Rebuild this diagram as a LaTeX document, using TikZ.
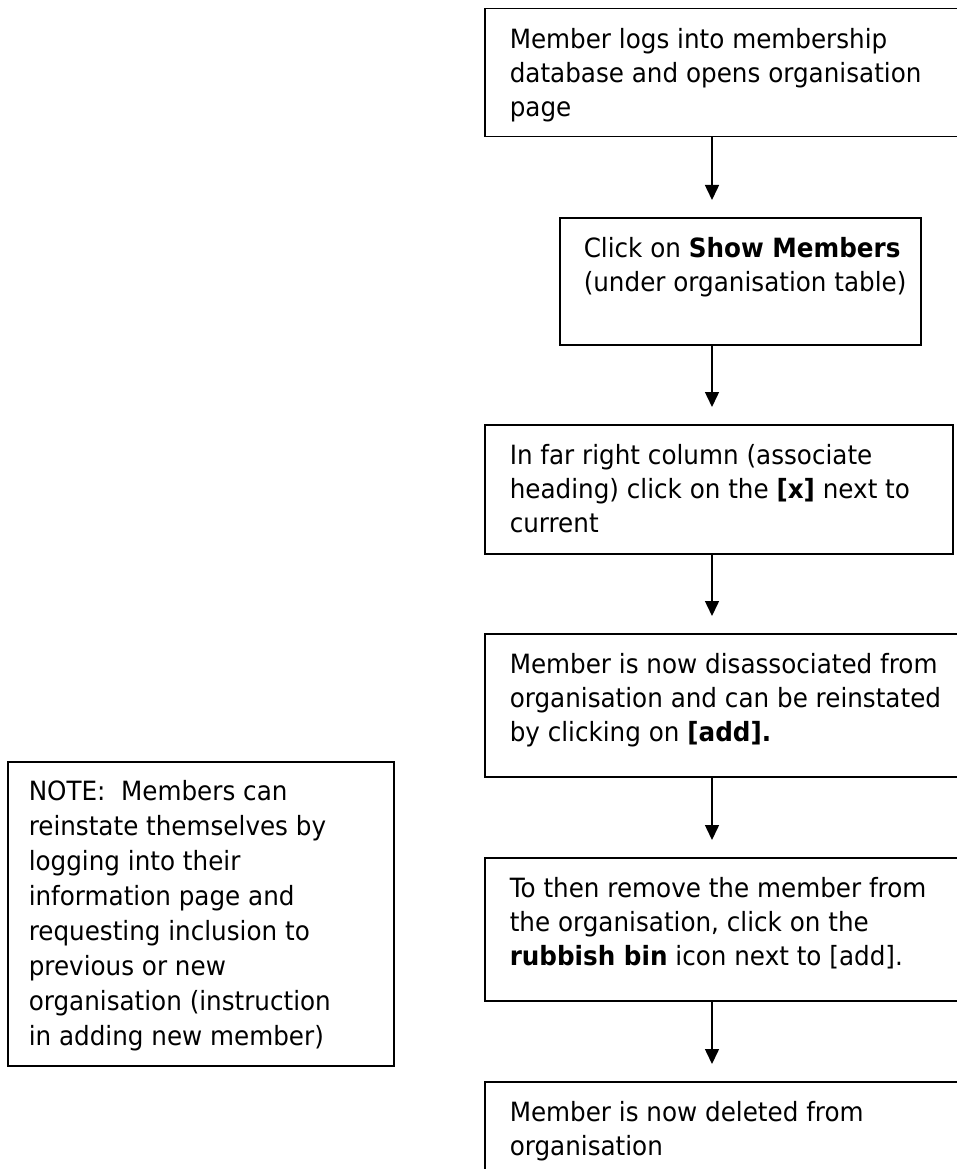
\documentclass[tikz,border=0pt]{standalone}
\usepackage{fontspec}
\setmainfont{DejaVu Sans}[FakeStretch=0.93]
\usetikzlibrary{arrows.meta}
% width, height, left pad, first baseline, baselineskip, text
\newcommand{\boxtxt}[6]{\parbox[c][#2][t]{#1}{\fontsize{26.5pt}{#5}\selectfont\leftskip=#3\rightskip=0pt plus 1fil\parindent=0pt\rule{0pt}{#4}#6\par}}
\tikzset{
  box/.style={draw=black, line width=1.5pt, inner sep=0pt, anchor=north west},
  arr/.style={draw=black, line width=1.5pt, -{Triangle[length=15pt,width=14pt]}, shorten >=17pt}
}
\begin{document}
\begin{tikzpicture}[x=1pt,y=-1pt]
\useasboundingbox (0,0) rectangle (957,1169);
\clip (0,0) rectangle (957,1169);
\fill[white] (0,0) rectangle (957,1169);
\coordinate (ax) at (712,0);
\node[box] (b1) at (484,8) {\boxtxt{530pt}{128pt}{25pt}{40pt}{34pt}{Member logs into membership\\database and opens organisation\\page}};
\node[box] (b2) at (559,217) {\boxtxt{361pt}{127pt}{24pt}{40pt}{34pt}{Click on \textbf{Show Members}\\(under organisation table)}};
\node[box] (b3) at (484,424) {\boxtxt{468pt}{129pt}{25pt}{40pt}{34pt}{In far right column (associate\\heading) click on the \textbf{[x]} next to\\current}};
\node[box] (b4) at (484,633) {\boxtxt{530pt}{143pt}{25pt}{40pt}{34pt}{Member is now disassociated from\\organisation and can be reinstated\\by clicking on \textbf{[add].}}};
\node[box] (b5) at (484,857) {\boxtxt{530pt}{143pt}{25pt}{40pt}{34pt}{To then remove the member from\\the organisation, click on the\\\textbf{rubbish bin} icon next to [add].}};
\node[box] (b6) at (484,1081) {\boxtxt{530pt}{130pt}{25pt}{40pt}{34pt}{Member is now deleted from\\organisation}};
\node[box] (note) at (7,761) {\boxtxt{386pt}{304pt}{21pt}{39pt}{35pt}{NOTE:~ Members can\\reinstate themselves by\\logging into their\\information page and\\requesting inclusion to\\previous or new\\organisation (instruction\\in adding new member)}};
\draw[arr] (b1.south -| ax) -- (b2.north -| ax);
\draw[arr] (b2.south -| ax) -- (b3.north -| ax);
\draw[arr] (b3.south -| ax) -- (b4.north -| ax);
\draw[arr] (b4.south -| ax) -- (b5.north -| ax);
\draw[arr] (b5.south -| ax) -- (b6.north -| ax);
\end{tikzpicture}
\end{document}
